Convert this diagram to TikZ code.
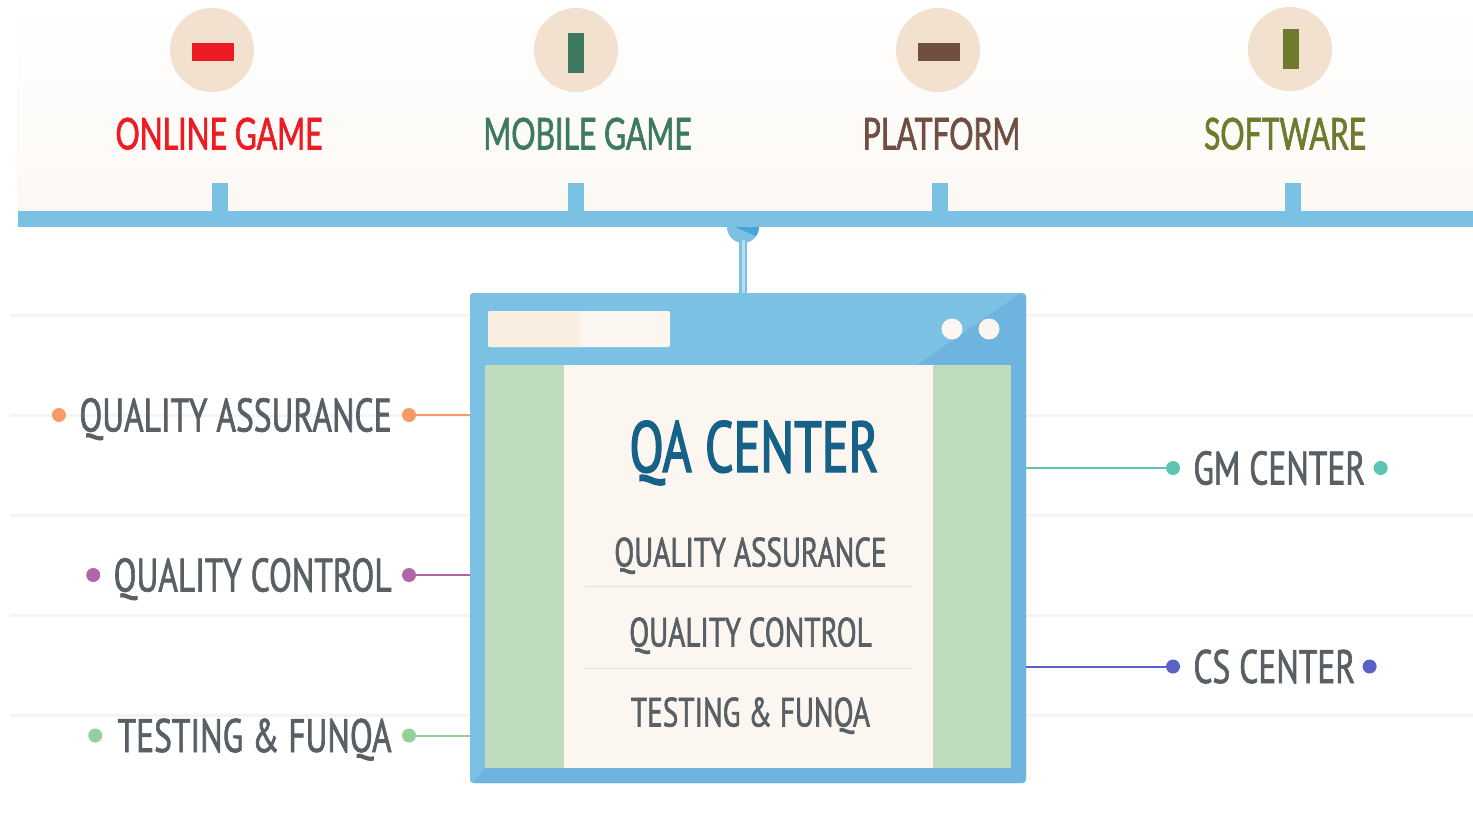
\documentclass[tikz,border=0pt]{standalone}
\usepackage{fontspec}
\usepackage{xcolor}
\usetikzlibrary{arrows.meta,positioning,calc}
\newfontfamily\headfont[FakeStretch=0.685,FakeBold=1.4]{Lato}
\newfontfamily\itemfont[FakeStretch=0.712,FakeBold=1.4]{PT Sans}
\newfontfamily\titlefont[FakeStretch=0.695,FakeBold=2]{PT Sans}
\definecolor{barblue}{HTML}{7BC1E4}
\definecolor{deepblue}{HTML}{6DB5DE}
\definecolor{wedgeblue}{HTML}{45A6D9}
\definecolor{cream}{HTML}{FBF6F0}
\definecolor{tan}{HTML}{F8EFE0}
\definecolor{badge}{HTML}{F2E1CF}
\definecolor{sage}{HTML}{BFDCBC}
\definecolor{gridline}{HTML}{F5F4F2}
\definecolor{slate}{HTML}{596065}
\definecolor{gamered}{HTML}{ED1C24}
\definecolor{gamegreen}{HTML}{3D7A5F}
\definecolor{platbrown}{HTML}{704F42}
\definecolor{softolive}{HTML}{6F7B2C}
\definecolor{titleblue}{HTML}{156188}
\definecolor{dotorange}{HTML}{F69B63}
\definecolor{dotpurple}{HTML}{B065A8}
\definecolor{dotgreen}{HTML}{97CF9B}
\definecolor{dotteal}{HTML}{5CC4B5}
\definecolor{dotblue}{HTML}{5A62C4}
\begin{document}
\begin{tikzpicture}[
    x=1pt, y=-1pt,
    badgecircle/.style={circle, fill=badge, minimum size=84pt, inner sep=0pt},
    widebar/.style={rectangle, minimum width=42pt, minimum height=18pt, inner sep=0pt},
    tallbar/.style={rectangle, minimum width=16pt, minimum height=40pt, inner sep=0pt},
    tick/.style={rectangle, fill=barblue, minimum width=16pt, minimum height=28pt, inner sep=0pt},
    headlabel/.style={font=\headfont\fontsize{44}{44}\selectfont, inner sep=0pt, text height=33pt, text depth=0pt},
    sidelabel/.style={font=\itemfont\fontsize{47}{47}\selectfont, text=slate, inner sep=0pt, text height=33pt, text depth=0pt},
    menulabel/.style={font=\itemfont\fontsize{41}{41}\selectfont, text=slate, inner sep=0pt, text height=29pt, text depth=0pt},
    dot/.style={circle, minimum size=14pt, inner sep=0pt},
    panel/.style={rectangle, inner sep=0pt},
    link/.style={line width=2pt},
    grid line/.style={gridline, line width=3pt}
]
    \useasboundingbox (0,0) rectangle (1473,814);

    % Background
    \shade[top color=white, bottom color=cream!70!white] (17,0) rectangle (1473,212);
    \draw[grid line] (10,315) -- (1473,315);
    \draw[grid line] (10,415) -- (1473,415);
    \draw[grid line] (10,515) -- (1473,515);
    \draw[grid line] (10,615) -- (1473,615);
    \draw[grid line] (10,715) -- (1473,715);

    % Top bar
    \node[panel, fill=barblue, minimum width=1455pt, minimum height=16pt] (bar) at (745.5,219) {};
    \node[tick] (tickOnline) at (220,197) {};
    \node[tick] (tickMobile) at (576,197) {};
    \node[tick] (tickPlatform) at (940,197) {};
    \node[tick] (tickSoftware) at (1293,197) {};

    % Categories
    \node[badgecircle] (badgeOnline) at (212,50) {};
    \node[widebar, fill=gamered] (markOnline) at (213,52) {};
    \node[headlabel, text=gamered] (online) at (219,133) {ONLINE GAME};

    \node[badgecircle] (badgeMobile) at (576,50) {};
    \node[tallbar, fill=gamegreen] (markMobile) at (576,53) {};
    \node[headlabel, text=gamegreen] (mobile) at (587.5,133) {MOBILE GAME};

    \node[badgecircle] (badgePlatform) at (938,50) {};
    \node[widebar, fill=platbrown] (markPlatform) at (939,52) {};
    \node[headlabel, text=platbrown] (platform) at (941.5,133) {PLATFORM};

    \node[badgecircle] (badgeSoftware) at (1290,49) {};
    \node[tallbar, fill=softolive] (markSoftware) at (1291,49) {};
    \node[headlabel, text=softolive] (software) at (1285,133) {SOFTWARE};

    % Window
    \node[panel, fill=barblue, rounded corners=3pt, minimum width=556pt, minimum height=490pt] (window) at (748,538) {};
    \fill[deepblue, rounded corners=1pt] (1021,293) -- (1026,297) -- (1026,780) -- (1023,783)
        -- (473,783) -- (485,768) -- (1011,768) -- (1011,365) -- (917,365) -- cycle;
    \node[panel, fill=sage, minimum width=79pt, minimum height=403pt] (sideLeft) at (524.5,566.5) {};
    \node[panel, fill=sage, minimum width=78pt, minimum height=403pt] (sideRight) at (972,566.5) {};
    \node[panel, fill=cream, minimum width=369pt, minimum height=403pt] (content) at (748.5,566.5) {};
    \fill[cream, rounded corners=2pt] (488,311) rectangle (670,347);
    \fill[tan, rounded corners=2pt] (488,311) -- (580,311) -- (580,347) -- (488,347) -- cycle;
    \node[dot, fill=cream, minimum size=21pt] (btnOne) at (952,329) {};
    \node[dot, fill=cream, minimum size=21pt] (btnTwo) at (989,329) {};

    % Hanger
    \fill[barblue] (727,227) arc[start angle=180, end angle=0, radius=16];
    \fill[wedgeblue] (735,227) -- (759,227) arc[start angle=0, end angle=35, radius=16] -- cycle;
    \node[panel, fill=barblue, minimum width=8pt, minimum height=53pt] (stem) at (743,266.5) {};
    \node[panel, fill=barblue!55, minimum width=3pt, minimum height=53pt] (stemCore) at (stem) {};

    % Window text
    \node[font=\titlefont\fontsize{72}{72}\selectfont, text=titleblue, inner sep=0pt, text height=50pt, text depth=0pt] (title) at (754,447) {QA CENTER};
    \node[menulabel] (menuQa) at (750.5,552) {QUALITY ASSURANCE};
    \node[menulabel] (menuQc) at (750.5,632) {QUALITY CONTROL};
    \node[menulabel] (menuTf) at (750.5,712) {TESTING \& FUNQA};
    \draw[black!12, line width=1pt] (585,586) -- (912,586);
    \draw[black!12, line width=1pt] (585,668) -- (912,668);

    % Left side
    \node[dot, fill=dotorange] (qaEnd) at (409,415) {};
    \node[sidelabel, left=10pt of qaEnd] (qaText) {QUALITY ASSURANCE};
    \node[dot, fill=dotorange, left=13pt of qaText] (qaStart) {};
    \draw[link, dotorange] (qaEnd) -- (qaEnd -| window.west);

    \node[dot, fill=dotpurple] (qcEnd) at (409,575) {};
    \node[sidelabel, left=10pt of qcEnd] (qcText) {QUALITY CONTROL};
    \node[dot, fill=dotpurple, left=13pt of qcText] (qcStart) {};
    \draw[link, dotpurple] (qcEnd) -- (qcEnd -| window.west);

    \node[dot, fill=dotgreen] (tfEnd) at (409,735.5) {};
    \node[sidelabel, left=10pt of tfEnd] (tfText) {TESTING \& FUNQA};
    \node[dot, fill=dotgreen, left=15pt of tfText] (tfStart) {};
    \draw[link, dotgreen] (tfEnd) -- (tfEnd -| window.west);

    % Right side
    \node[dot, fill=dotteal] (gmStart) at (1173,468) {};
    \node[sidelabel, right=13pt of gmStart] (gmText) {GM CENTER};
    \node[dot, fill=dotteal, right=8pt of gmText] (gmEnd) {};
    \draw[link, dotteal] (gmStart) -- (gmStart -| window.east);

    \node[dot, fill=dotblue] (csStart) at (1173,666.5) {};
    \node[sidelabel, right=13pt of csStart] (csText) {CS CENTER};
    \node[dot, fill=dotblue, right=7pt of csText] (csEnd) {};
    \draw[link, dotblue] (csStart) -- (csStart -| window.east);

\end{tikzpicture}
\end{document}
